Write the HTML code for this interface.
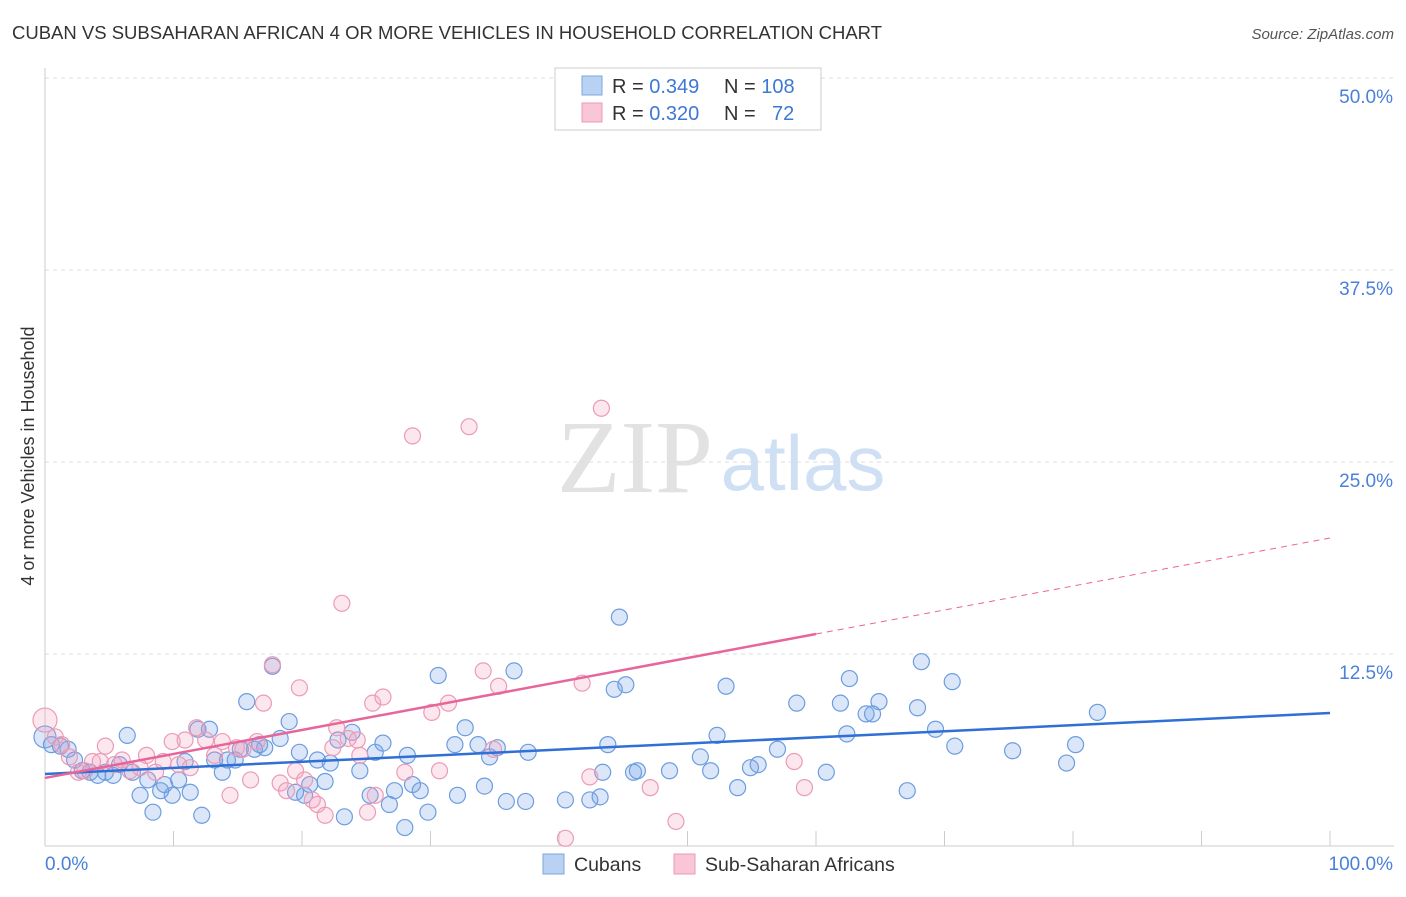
<!DOCTYPE html>
<html><head><meta charset="utf-8">
<style>
body{margin:0;background:#fff;font-family:"Liberation Sans",sans-serif;}
</style></head>
<body>
<svg id="chart" width="1406" height="892" viewBox="0 0 1406 892" xmlns="http://www.w3.org/2000/svg" font-family="Liberation Sans, sans-serif">
<text x="12" y="39" font-size="18.5" fill="#333">CUBAN VS SUBSAHARAN AFRICAN 4 OR MORE VEHICLES IN HOUSEHOLD CORRELATION CHART</text>
<text x="1394" y="39" font-size="15" fill="#555" text-anchor="end" font-style="italic">Source: ZipAtlas.com</text>
<text transform="translate(34,456) rotate(-90)" font-size="18" fill="#333" text-anchor="middle">4 or more Vehicles in Household</text>
<g>
<text x="635" y="492" font-size="104" fill="#e2e2e2" text-anchor="middle" font-family="Liberation Serif, serif">ZIP</text>
<text x="803" y="490" font-size="78" fill="#d0e0f4" text-anchor="middle">atlas</text>
</g>
<g id="grid"></g>
<g id="axes"></g>
<g id="points"></g>
<g id="lines"></g>
<g>
<rect x="555" y="68" width="266" height="62" fill="#fff" stroke="#ccc"/>
<rect x="582" y="76" width="20" height="19" fill="#b9d2f3" stroke="#7fa6dd"/>
<rect x="582" y="103" width="20" height="19" fill="#f9c6d6" stroke="#eb9bb6"/>
<text x="612" y="93" font-size="20" fill="#333">R = <tspan fill="#3d78d4">0.349</tspan></text>
<text x="724" y="93" font-size="20" fill="#333">N = <tspan fill="#3d78d4">108</tspan></text>
<text x="612" y="120" font-size="20" fill="#333">R = <tspan fill="#3d78d4">0.320</tspan></text>
<text x="724" y="120" font-size="20" fill="#333">N = <tspan fill="#3d78d4" x="772">72</tspan></text>
</g>
<g>
<rect x="543" y="854" width="21" height="20" fill="#b9d2f3" stroke="#7fa6dd"/>
<text x="574" y="871" font-size="19.5" fill="#333">Cubans</text>
<rect x="674" y="854" width="21" height="20" fill="#f9c6d6" stroke="#eb9bb6"/>
<text x="705" y="871" font-size="19.5" fill="#333">Sub-Saharan Africans</text>
</g>
</svg>
<script>
const yTicks=[12.5,25.0,37.5,50.0];
const yTickLabels=["12.5%","25.0%","37.5%","50.0%"];
const xTickLabels=["0.0%","100.0%"];
const cubanX=[0,0.5,1.2,1.8,2.3,2.9,3.5,4.1,4.7,5.3,5.8,6.4,6.8,7.4,8.0,8.4,9.0,9.3,9.9,10.4,10.9,11.3,11.9,12.2,12.8,13.2,13.8,14.2,14.8,15.2,15.7,16.3,16.7,17.1,17.7,18.3,19.0,19.5,19.8,20.2,20.6,21.2,21.8,22.2,22.8,23.3,23.9,24.5,25.3,25.7,26.3,26.8,27.2,28.0,28.2,28.6,29.2,29.8,30.6,31.9,32.1,32.7,33.7,34.2,34.6,35.2,35.9,36.5,37.4,37.6,40.5,42.4,43.2,43.4,43.8,44.3,44.7,45.2,45.8,46.1,48.6,51.0,51.8,52.3,53.0,53.9,54.9,55.5,57.0,58.5,60.8,61.9,62.4,62.6,63.9,64.4,64.9,67.1,67.9,68.2,69.3,70.6,70.8,75.3,79.5,80.2,81.9];
const cubanY=[7.1,6.6,6.5,6.3,5.6,4.9,4.8,4.6,4.8,4.6,5.3,7.2,4.8,3.3,4.3,2.2,3.6,4.0,3.3,4.3,5.5,3.5,7.6,2.0,7.6,5.6,4.8,5.6,5.6,6.3,9.4,6.3,6.6,6.4,11.7,7.0,8.1,3.5,6.1,3.3,4.0,5.6,4.2,5.4,6.9,1.9,7.4,4.9,3.3,6.1,6.7,2.7,3.6,1.2,5.9,4.0,3.6,2.2,11.1,6.6,3.3,7.7,6.6,3.9,5.8,6.4,2.9,11.4,2.9,6.1,3.0,3.0,3.2,4.8,6.6,10.2,14.9,10.5,4.8,4.9,4.9,5.8,4.9,7.2,10.4,3.8,5.1,5.3,6.3,9.3,4.8,9.3,7.3,10.9,8.6,8.6,9.4,3.6,9.0,12.0,7.6,10.7,6.5,6.2,5.4,6.6,8.7];
const africanX=[0,0.8,1.3,1.9,2.6,3.1,3.7,4.3,4.7,5.4,6.0,6.6,7.4,7.9,8.6,9.2,9.9,10.4,10.9,11.3,11.8,12.5,13.2,13.8,14.4,14.9,15.4,16.0,16.5,17.0,17.7,18.3,18.8,19.5,19.8,20.2,20.8,21.2,21.8,22.4,22.7,23.1,23.6,24.3,24.5,25.1,25.5,25.7,26.3,28.0,28.6,30.1,30.7,31.4,33.0,34.1,34.9,35.3,40.5,41.8,42.4,43.3,47.1,49.1,54.6,58.3,59.1];
const africanY=[8.2,7.1,6.6,5.8,4.8,4.9,5.5,5.5,6.5,5.3,5.6,4.9,5.1,5.9,4.8,5.5,6.8,5.3,6.9,5.1,7.7,6.9,5.9,6.8,3.3,6.4,6.3,4.3,6.8,9.3,11.8,4.1,3.6,4.9,10.3,4.3,3.0,2.7,2.0,6.4,7.7,15.8,7.0,6.9,5.9,2.2,9.3,3.3,9.7,4.8,26.7,8.7,4.9,9.3,27.3,11.4,6.3,10.4,0.5,10.6,4.5,28.5,3.8,1.6,49.9,5.5,3.8];
const cubanTrend=[4.69,8.66];
const africanTrend=[4.43,20.05];
const africanSolidEnd=60;

const X0=45,X1=1330,Y0=846,Y1=78;
const sx=v=>X0+(X1-X0)*v/100;
const sy=v=>Y0-(Y0-Y1)*v/50;
const NS="http://www.w3.org/2000/svg";
function mk(t,a,p){const e=document.createElementNS(NS,t);for(const k in a)e.setAttribute(k,a[k]);p.appendChild(e);return e;}
const grid=document.getElementById('grid'),axes=document.getElementById('axes'),pts=document.getElementById('points'),lines=document.getElementById('lines');
yTicks.forEach((t,i)=>{
 const g=mk('line',{x1:X0,x2:1394,y1:sy(t),y2:sy(t),stroke:'#ddd','stroke-dasharray':'4,4'},grid);
 
 
 const l=mk('text',{x:1393,y:sy(t)+25,'font-size':19,fill:'#4a80d9','text-anchor':'end'},axes);
 l.textContent=yTickLabels[i];
 
 
});
const ax=mk('line',{x1:X0,x2:X0,y1:68,y2:Y0,stroke:'#ccc'},axes);


const bx=mk('line',{x1:X0,x2:1394,y1:Y0,y2:Y0,stroke:'#ccc'},axes);


for(let i=0;i<=10;i++){
 const t=mk('line',{x1:sx(i*10),x2:sx(i*10),y1:Y0,y2:Y0-15,stroke:'#ccc'},axes);
 
 
}
[[0,'start',X0],[100,'end',1393]].forEach((d,i)=>{
 const l=mk('text',{x:d[2],y:870,'font-size':19,fill:'#4a80d9','text-anchor':d[1]},axes);
 l.textContent=xTickLabels[i];
 
 
});
cubanX.forEach((x,i)=>{
 const c=mk('circle',{cx:sx(x),cy:sy(cubanY[i]),r:i==0?11:8,fill:'rgba(110,160,230,0.25)',stroke:'#6c9ddf','stroke-width':1.2},pts);
 
 
});
africanX.forEach((x,i)=>{
 const c=mk('circle',{cx:sx(x),cy:sy(africanY[i]),r:i==0?12:8,fill:'rgba(245,160,190,0.25)',stroke:'#eb9bb6','stroke-width':1.2},pts);
 
 
});
const bl=mk('line',{x1:sx(0),y1:sy(cubanTrend[0]),x2:sx(100),y2:sy(cubanTrend[1]),stroke:'#2f6fd6','stroke-width':2.5},lines);


const ay=x=>africanTrend[0]+(africanTrend[1]-africanTrend[0])*x/100;
const pl=mk('line',{x1:sx(0),y1:sy(ay(0)),x2:sx(africanSolidEnd),y2:sy(ay(africanSolidEnd)),stroke:'#e8659a','stroke-width':2.5},lines);


const pd=mk('line',{x1:sx(africanSolidEnd),y1:sy(ay(africanSolidEnd)),x2:sx(100),y2:sy(ay(100)),stroke:'#e8659a','stroke-width':1,'stroke-dasharray':'6,5'},lines);


</script>
</body></html>
